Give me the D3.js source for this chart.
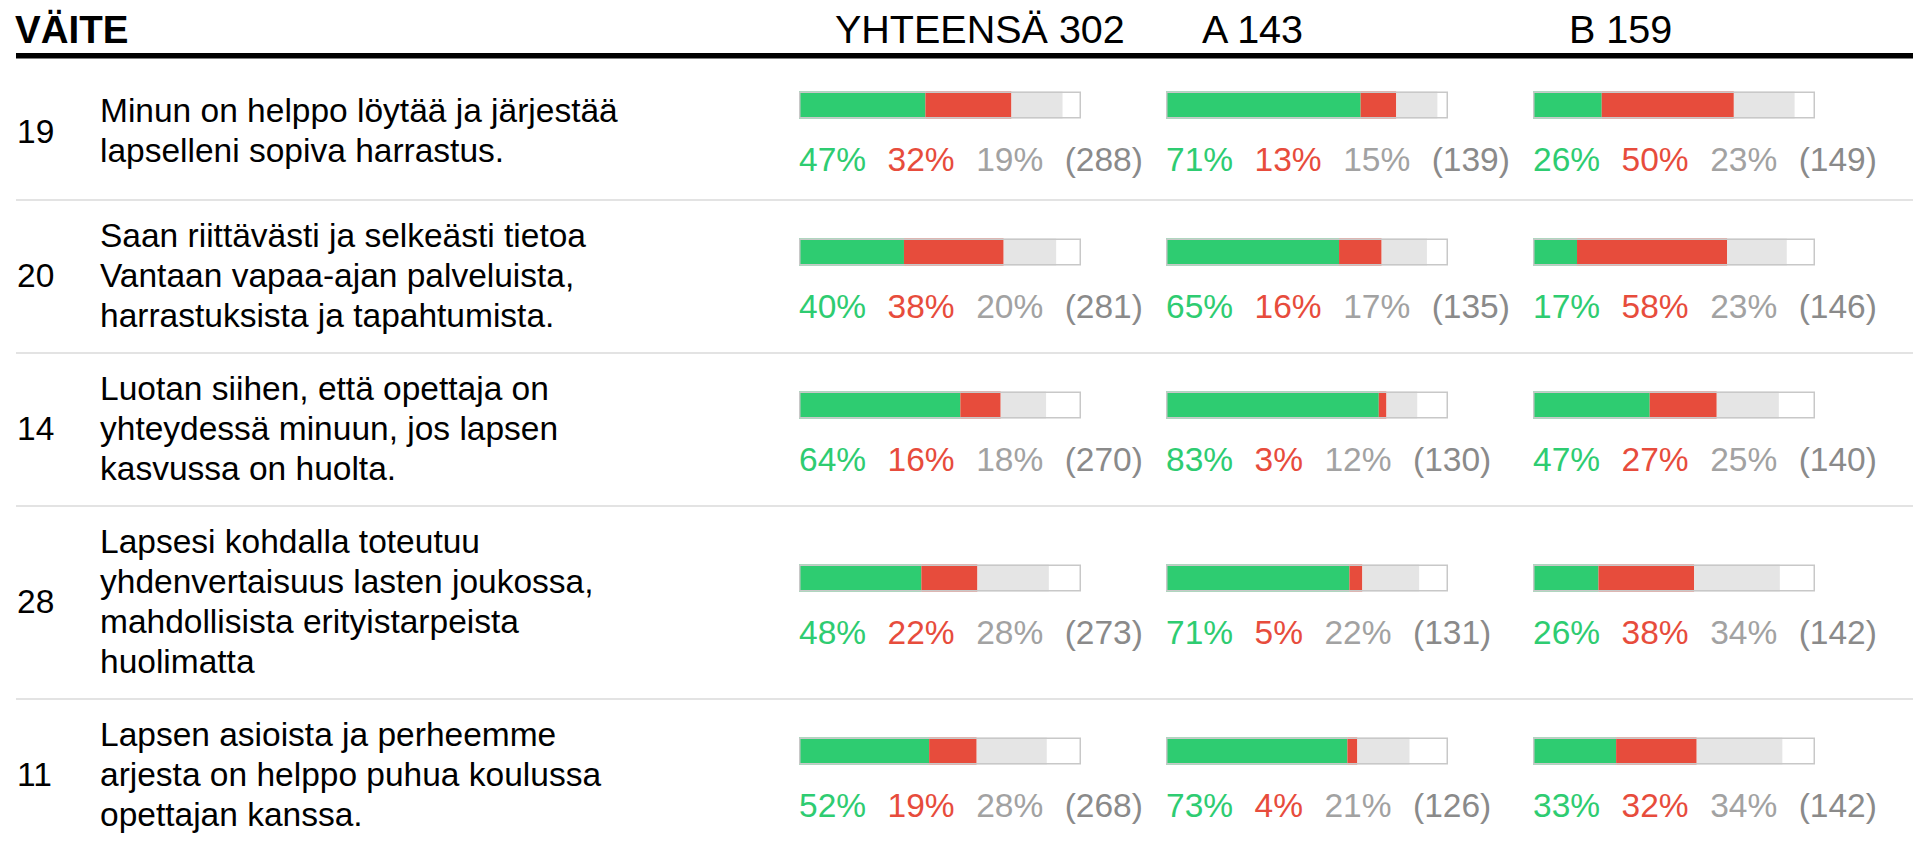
<!DOCTYPE html>
<html>
<head>
<meta charset="utf-8">
<script src="https://cdn.jsdelivr.net/npm/d3@7"></script>
<style>
  html, body { margin: 0; padding: 0; background: #fff; overflow: hidden; }
  svg { display: block; font-family: "Liberation Sans", Arial, sans-serif; }
</style>
</head>
<body>
<svg id="chart" width="1913" height="845"></svg>
<script>
// ── Data ────────────────────────────────────────────────────────────────────
const groups      = ["YHTEENSÄ", "A", "B"];
const groupTotals = [302, 143, 159];

const itemIds = ["19", "20", "14", "28", "11"];
const itemLines = [
  ["Minun on helppo löytää ja järjestää", "lapselleni sopiva harrastus."],
  ["Saan riittävästi ja selkeästi tietoa", "Vantaan vapaa-ajan palveluista,", "harrastuksista ja tapahtumista."],
  ["Luotan siihen, että opettaja on", "yhteydessä minuun, jos lapsen", "kasvussa on huolta."],
  ["Lapsesi kohdalla toteutuu", "yhdenvertaisuus lasten joukossa,", "mahdollisista erityistarpeista", "huolimatta"],
  ["Lapsen asioista ja perheemme", "arjesta on helppo puhua koulussa", "opettajan kanssa."]
];

// per item: [YHTEENSÄ, A, B]
const agreePct    = [[47, 71, 26], [40, 65, 17], [64, 83, 47], [48, 71, 26], [52, 73, 33]];
const disagreePct = [[32, 13, 50], [38, 16, 58], [16, 3, 27], [22, 5, 38], [19, 4, 32]];
const neutralPct  = [[19, 15, 23], [20, 17, 23], [18, 12, 25], [28, 22, 34], [28, 21, 34]];
const answered    = [[288, 139, 149], [281, 135, 146], [270, 130, 140], [273, 131, 142], [268, 126, 142]];

// ── Styles ──────────────────────────────────────────────────────────────────
const GREEN = "#2ecc71", RED = "#e74c3c", GREY = "#e5e5e5";
const W = 1913;
const BAR_W = 282, BAR_H = 27;
const FONT = 33.5, HEAD_FONT = 39.5;
const LINE_H = 40, PAD_T = 13, PAD_B = 20, MIN_CONTENT = 108;
const HEADER_BOTTOM = 59;

const svg = d3.select("#chart");

const colX = d3.scalePoint().domain(groups).range([799, 1533]);

// ── Header ──────────────────────────────────────────────────────────────────
svg.append("text")
  .attr("x", 15).attr("y", 43)
  .attr("font-size", HEAD_FONT - 1).attr("font-weight", "bold").attr("fill", "#000")
  .text("VÄITE");

svg.append("g").selectAll("text")
  .data(groups)
  .join("text")
  .attr("x", d => colX(d) + 36).attr("y", 43)
  .attr("font-size", HEAD_FONT).attr("fill", "#000")
  .attr("xml:space", "preserve")
  .text((d, i) => `${d} ${groupTotals[i]}`);

svg.append("rect")
  .attr("x", 16).attr("y", 53).attr("width", W - 16).attr("height", 5.5)
  .attr("fill", "#000");

// ── Row layout ──────────────────────────────────────────────────────────────
let y0 = HEADER_BOTTOM;
const rows = itemIds.map((id, i) => {
  const textH = itemLines[i].length * LINE_H;
  const content = Math.max(textH, MIN_CONTENT);
  const r = { i, id, top: y0, content, textH, center: y0 + PAD_T + content / 2 };
  // text sits a little low in its cell
  r.textCenter = r.center + 2 + (content - textH) * 0.1;
  y0 += content + PAD_T + PAD_B;
  r.bottom = y0;
  return r;
});

const rowG = svg.append("g").selectAll("g")
  .data(rows)
  .join("g");

// separators
rowG.filter(d => d.i < rows.length - 1).append("rect")
  .attr("x", 16).attr("y", d => d.bottom - 1).attr("width", W - 16).attr("height", 2)
  .attr("fill", "#e3e3e3");

// item number
rowG.append("text")
  .attr("x", 17).attr("y", d => d.textCenter + 12)
  .attr("font-size", FONT).attr("fill", "#000")
  .text(d => d.id);

// item text
rowG.each(function (d) {
  const lines = itemLines[d.i];
  const firstBase = d.textCenter - d.textH / 2 + 31.6;
  d3.select(this).append("text")
    .attr("font-size", FONT).attr("fill", "#000")
    .selectAll("tspan")
    .data(lines)
    .join("tspan")
    .attr("x", 100)
    .attr("y", (l, k) => firstBase + k * LINE_H)
    .text(l => l);
});

// ── Bars and labels ─────────────────────────────────────────────────────────
rowG.each(function (d) {
  const g = d3.select(this);
  groups.forEach((grp, gi) => {
    const x = d3.scaleLinear().domain([0, groupTotals[gi]]).range([0, BAR_W]);
    const n = answered[d.i][gi];
    const segs = [
      { v: agreePct[d.i][gi], c: GREEN },
      { v: disagreePct[d.i][gi], c: RED },
      { v: neutralPct[d.i][gi], c: GREY }
    ];
    let acc = 0;
    segs.forEach(s => { s.x0 = acc; acc += s.v / 100 * n; s.x1 = acc; });

    const bx = colX(grp), by = d.center - 34.5;
    const bar = g.append("g").attr("transform", `translate(${bx},${by})`);
    bar.append("rect").attr("width", BAR_W).attr("height", BAR_H).attr("fill", "#fff");
    bar.selectAll("rect.seg")
      .data(segs)
      .join("rect")
      .attr("class", "seg")
      .attr("x", s => x(s.x0))
      .attr("width", s => x(s.x1) - x(s.x0))
      .attr("height", BAR_H)
      .attr("fill", s => s.c);
    bar.append("rect")
      .attr("x", 0.75).attr("y", 0.75)
      .attr("width", BAR_W - 1.5).attr("height", BAR_H - 1.5)
      .attr("fill", "none").attr("stroke", "#c8c8c8").attr("stroke-width", 1.5);

    const labels = [
      { t: `${agreePct[d.i][gi]}%`, c: GREEN },
      { t: `${disagreePct[d.i][gi]}%`, c: RED },
      { t: `${neutralPct[d.i][gi]}%`, c: "#a2a2a2" },
      { t: `(${n})`, c: "#8a8a8a" }
    ];
    let lx = bx;
    labels.forEach(l => {
      const t = g.append("text")
        .attr("x", lx).attr("y", d.center + 45)
        .attr("font-size", FONT).attr("fill", l.c)
        .text(l.t);
      lx += t.node().getComputedTextLength() + 21.5;
    });
  });
});
</script>
</body>
</html>
